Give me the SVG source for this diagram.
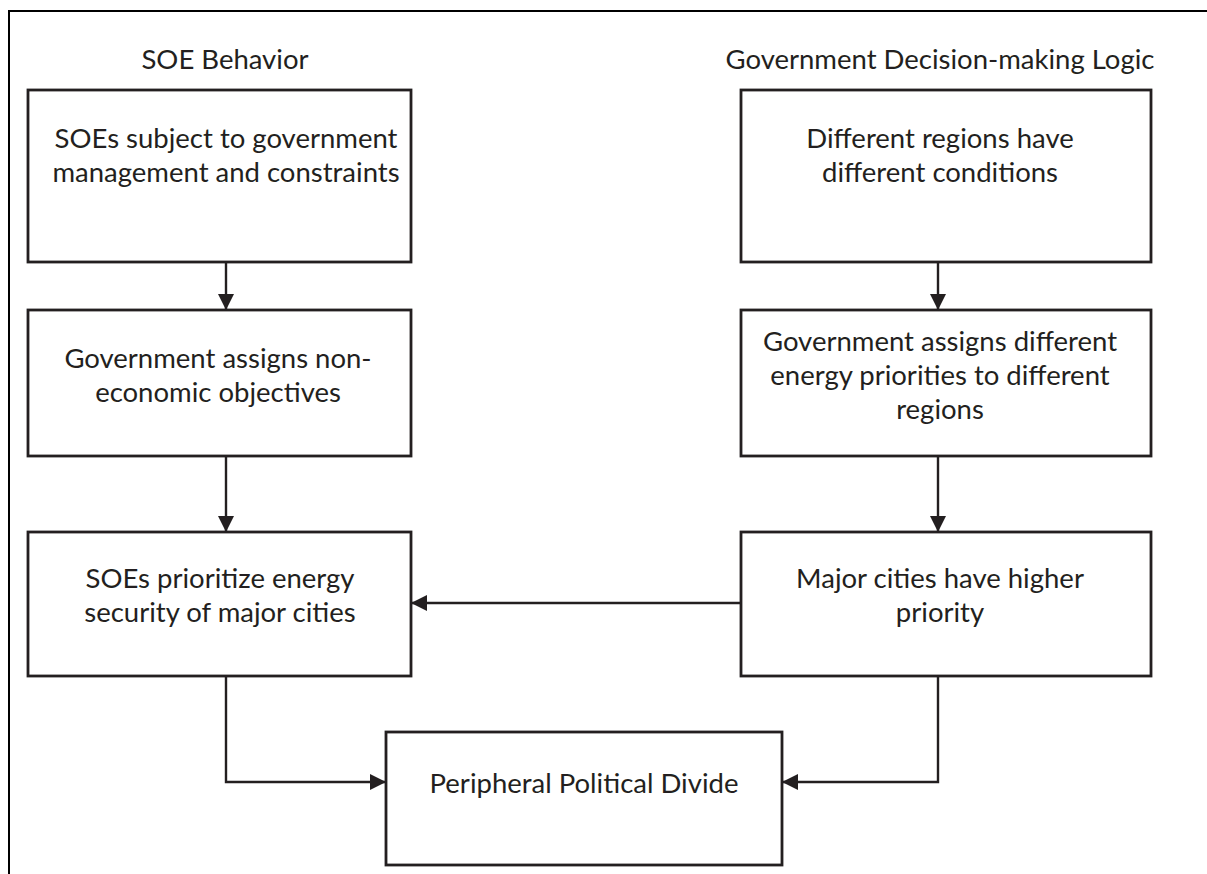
<svg xmlns="http://www.w3.org/2000/svg" width="1207" height="874" viewBox="0 0 1207 874">
<style>
.box{fill:#fff;stroke:#231f20;stroke-width:2.8}
.t{font-family:Lato,"Open Sans","Liberation Sans",sans-serif;font-size:27.5px;fill:#231f20;text-anchor:middle;dominant-baseline:central}
.c{fill:none;stroke:#231f20;stroke-width:2.4}
</style>
<defs>
<marker id="ah" viewBox="0 0 10 10" refX="10" refY="5" markerWidth="16" markerHeight="16" markerUnits="userSpaceOnUse" orient="auto">
<path d="M0,0 L10,5 L0,10 Z" fill="#231f20"/>
</marker>
</defs>
<rect width="1207" height="874" fill="#fff"/>
<path d="M9,874 V11 H1207" fill="none" stroke="#000" stroke-width="2"/>
<text class="t" x="225" y="58">SOE Behavior</text>
<text class="t" x="940" y="58">Government Decision-making Logic</text>
<g id="n1"><rect class="box" x="28" y="90" width="383" height="172"/>
<text class="t" x="226" y="137">SOEs subject to government</text>
<text class="t" x="226" y="171">management and constraints</text></g>
<g id="n2"><rect class="box" x="28" y="310" width="383" height="146"/>
<text class="t" x="218" y="357">Government assigns non-</text>
<text class="t" x="218" y="391">economic objectives</text></g>
<g id="n3"><rect class="box" x="28" y="532" width="383" height="144"/>
<text class="t" x="220" y="577">SOEs prioritize energy</text>
<text class="t" x="220" y="611">security of major cities</text></g>
<g id="r1"><rect class="box" x="741" y="90" width="410" height="172"/>
<text class="t" x="940" y="137">Different regions have</text>
<text class="t" x="940" y="171">different conditions</text></g>
<g id="r2"><rect class="box" x="741" y="310" width="410" height="146"/>
<text class="t" x="940" y="340">Government assigns different</text>
<text class="t" x="940" y="374">energy priorities to different</text>
<text class="t" x="940" y="408">regions</text></g>
<g id="r3"><rect class="box" x="741" y="532" width="410" height="144"/>
<text class="t" x="940" y="577">Major cities have higher</text>
<text class="t" x="940" y="611">priority</text></g>
<g id="b"><rect class="box" x="386" y="732" width="396" height="133"/>
<text class="t" x="584" y="782">Peripheral Political Divide</text></g>
<g id="connectors">
<path class="c" d="M226,262 V310" marker-end="url(#ah)"/>
<path class="c" d="M226,456 V532" marker-end="url(#ah)"/>
<path class="c" d="M938,262 V310" marker-end="url(#ah)"/>
<path class="c" d="M938,456 V532" marker-end="url(#ah)"/>
<path class="c" d="M741,603 H411" marker-end="url(#ah)"/>
<path class="c" d="M226,676 V782 H386" marker-end="url(#ah)"/>
<path class="c" d="M938,676 V782 H782" marker-end="url(#ah)"/>
</g>
</svg>
